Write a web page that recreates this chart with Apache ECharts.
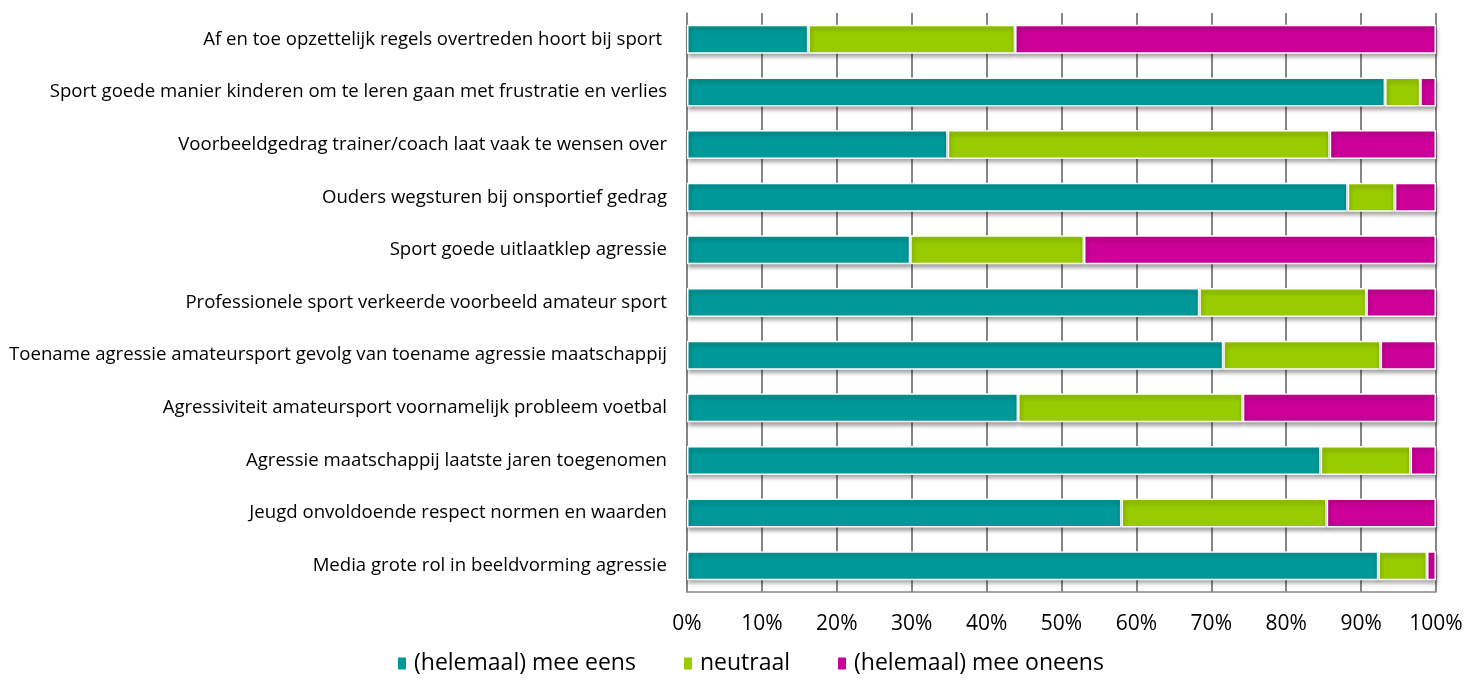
<!DOCTYPE html>
<html>
<head>
<meta charset="utf-8">
<script src="https://cdn.jsdelivr.net/npm/echarts@6/dist/echarts.min.js"></script>
<style>
    html, body {margin: 0; padding: 0; background: #fff;}
    #main {width: 1470px; height: 681px;}
</style>
</head>
<body>
<div id="main"></div>
<script>
var categories = [
    'Af en toe opzettelijk regels overtreden hoort bij sport ',
    'Sport goede manier kinderen om te leren gaan met frustratie en verlies',
    'Voorbeeldgedrag trainer/coach laat vaak te wensen over',
    'Ouders wegsturen bij onsportief gedrag',
    'Sport goede uitlaatklep agressie',
    'Professionele sport verkeerde voorbeeld amateur sport',
    'Toename agressie amateursport gevolg van toename agressie maatschappij',
    'Agressiviteit amateursport voornamelijk probleem voetbal',
    'Agressie maatschappij laatste jaren toegenomen',
    'Jeugd onvoldoende respect normen en waarden',
    'Media grote rol in beeldvorming agressie'
];
var eens = [16.2, 93.2, 34.8, 88.2, 29.8, 68.4, 71.6, 44.2, 84.6, 58.0, 92.3];
var neutraal = [27.6, 4.7, 51.0, 6.3, 23.2, 22.3, 21.0, 30.0, 12.0, 27.4, 6.5];
var oneens = [56.2, 2.1, 14.2, 5.5, 47.0, 9.3, 7.4, 25.8, 3.4, 14.6, 1.2];
var seriesNames = ['(helemaal) mee eens', 'neutraal', '(helemaal) mee oneens'];
var colors = ['#009999', '#99CC00', '#CC0099'];

~function () {
    var myChart = echarts.init(document.getElementById('main'));
    var font = 'Open Sans';
    var barStyle = function (c) {
        return {
            color: c,
            borderColor: '#fff',
            borderWidth: 1.5,
            shadowColor: 'rgba(0,0,0,0.35)',
            shadowBlur: 4,
            shadowOffsetY: 3,
            shadowOffsetX: 1
        };
    };
    var option = {
        animation: false,
        textStyle: {fontFamily: font},
        grid: {left: 687, right: 34, top: 13, bottom: 89},
        legend: {
            left: 391,
            bottom: 1,
            itemWidth: 10,
            itemHeight: 14,
            itemGap: 46,
            icon: 'rect',
            textStyle: {fontSize: 23, color: '#000', fontFamily: font, padding: [0, 0, 0, 2]},
            data: seriesNames
        },
        xAxis: {
            type: 'value',
            min: 0,
            max: 100,
            interval: 10,
            axisLine: {show: true, lineStyle: {color: '#868686', width: 1.5}},
            axisTick: {show: false},
            axisLabel: {
                formatter: '{value}%',
                fontSize: 21,
                color: '#000',
                margin: 22
            },
            splitLine: {show: true, lineStyle: {color: '#868686', width: 2}}
        },
        yAxis: {
            type: 'category',
            inverse: true,
            data: categories,
            axisLine: {show: true, lineStyle: {color: '#868686', width: 1.5}},
            axisTick: {show: false},
            axisLabel: {fontSize: 18.6, color: '#000', margin: 20}
        },
        series: [
            {name: seriesNames[0], type: 'bar', stack: 'total', barWidth: 29, data: eens, itemStyle: barStyle(colors[0])},
            {name: seriesNames[1], type: 'bar', stack: 'total', barWidth: 29, data: neutraal, itemStyle: barStyle(colors[1])},
            {name: seriesNames[2], type: 'bar', stack: 'total', barWidth: 29, data: oneens, itemStyle: barStyle(colors[2])}
        ]
    };
    myChart.setOption(option);
}();
</script>
</body>
</html>
